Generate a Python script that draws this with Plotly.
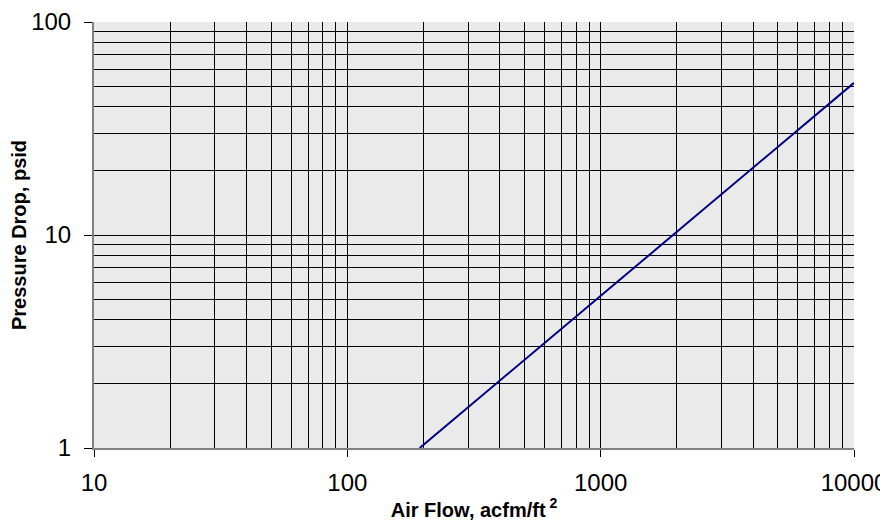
import plotly.graph_objects as go

# air flow (acfm/ft^2) vs pressure drop (psid)
air_flow = [193, 10000]
pressure_drop = [1.0, 51.8]

fig = go.Figure(go.Scatter(
    x=air_flow,
    y=pressure_drop,
    mode='lines',
    line=dict(color='#000080', width=2),
    showlegend=False
))

tick_font = dict(family='Liberation Sans, Arial', size=24, color='black')
title_font = dict(family='Liberation Sans, Arial', size=20, color='black')

# page body has an 8px margin, so the figure is a bit smaller than the window
fig.update_layout(
    width=880,
    height=519,
    margin=dict(l=86, r=34, t=14, b=79),
    paper_bgcolor='white',
    plot_bgcolor='#eaeaea',
    font=dict(family='Liberation Sans, Arial', color='black'),
    xaxis=dict(
        type='log',
        range=[1, 4],
        dtick=1,
        tickformat='d',
        tickfont=tick_font,
        ticks='outside',
        ticklen=7,
        tickcolor='black',
        ticklabelstandoff=5,
        showline=True,
        linecolor='#808080',
        linewidth=2,
        showgrid=True,
        gridcolor='black',
        gridwidth=1,
        minor=dict(dtick='D1', showgrid=True, gridcolor='black', gridwidth=1, ticks=''),
        zeroline=False,
        automargin=False,
        title=dict(text='<b>Air Flow, acfm/ft<sup> 2</sup></b>', font=title_font, standoff=8),
    ),
    yaxis=dict(
        type='log',
        range=[0, 2],
        dtick=1,
        tickformat='d',
        tickfont=tick_font,
        ticks='outside',
        ticklen=8,
        tickcolor='black',
        ticklabelstandoff=8,
        showline=True,
        linecolor='#808080',
        linewidth=2,
        showgrid=True,
        gridcolor='black',
        gridwidth=1,
        minor=dict(dtick='D1', showgrid=True, gridcolor='black', gridwidth=1, ticks=''),
        zeroline=False,
        automargin=False,
        title=dict(text='<b>Pressure Drop, psid</b>', font=title_font, standoff=1),
    ),
)

fig.write_html("out.html")
